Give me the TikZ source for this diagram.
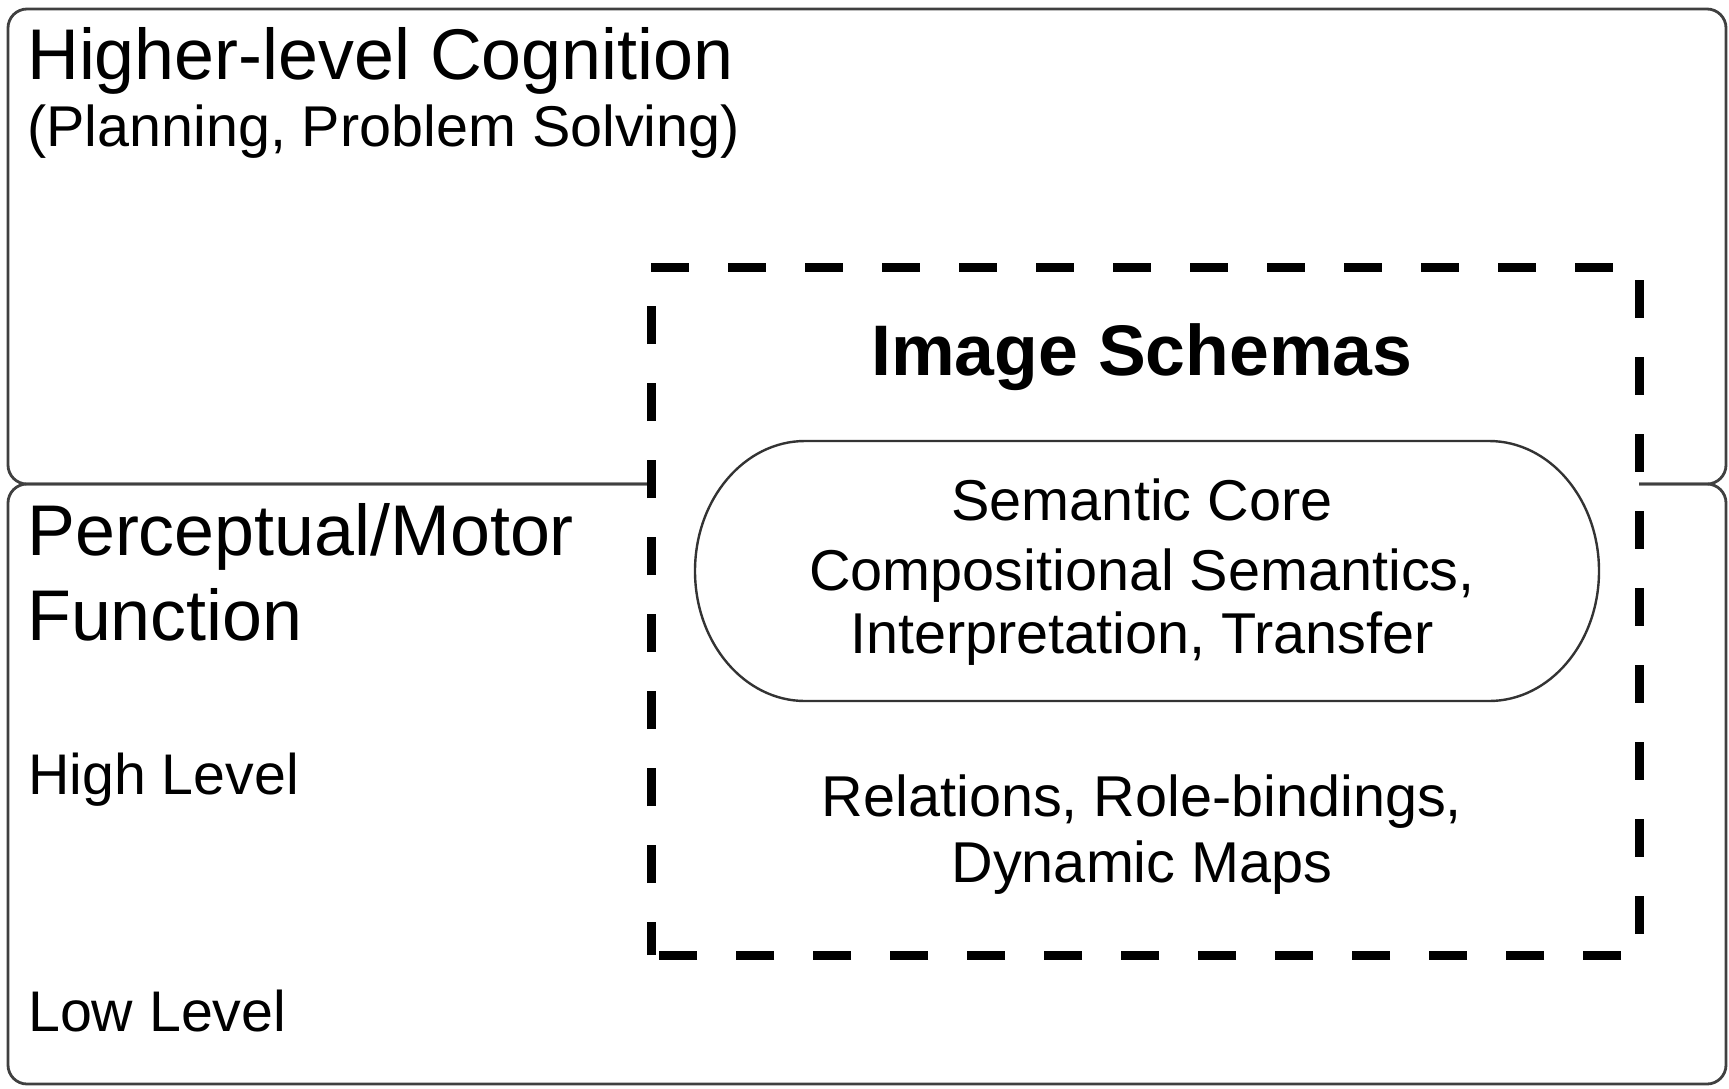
\documentclass[tikz,border=0pt]{standalone}
\usepackage{fontspec}
\setmainfont{Liberation Sans}
\begin{document}
\begin{tikzpicture}[x=1pt,y=-1pt,
  panel/.style={draw=black!75, line width=2.8pt, rounded corners=19pt},
  schemabox/.style={draw=black, fill=white, line width=9pt,
                    dash pattern=on 38pt off 39pt, dash phase=5pt},
  core/.style={draw=black!80, line width=2.4pt},
  bigleft/.style={anchor=base west, inner sep=0pt, font=\fontsize{71.8}{85}\selectfont},
  subleft/.style={anchor=base west, inner sep=0pt, font=\fontsize{57.5}{66}\selectfont},
  smallleft/.style={anchor=base west, inner sep=0pt, font=\fontsize{57.3}{66}\selectfont},
  centred/.style={anchor=base, inner sep=0pt, font=\fontsize{57.6}{66}\selectfont}]

\useasboundingbox (0,0) rectangle (1729,1088);

% two stacked panels sharing the middle edge
\draw[panel] (8,9) rectangle (1726,484);
\draw[panel] (8,484) rectangle (1726,1084);

% dashed image-schema frame laid over the shared edge
\draw[schemabox] (651,955) rectangle (1639,267);

% semantic core outline with elliptic ends
\draw[core] (805,441) -- (1489,441)
  arc[start angle=-90, end angle=90, x radius=110, y radius=130]
  -- (805,701)
  arc[start angle=90, end angle=270, x radius=110, y radius=130]
  -- cycle;

% panel labels
\node[bigleft] (hlc) at (27,79) {Higher-level Cognition};
\node[subleft] (hlcsub) at (27,146) {(Planning, Problem Solving)};
\node[bigleft] (pm) at (27,555) {Perceptual/Motor};
\node[bigleft] (pmfun) at (27,640) {Function};
\node[smallleft] (high) at (28,794) {High Level};
\node[smallleft] (low) at (28,1031) {Low Level};

% image schema contents
\node[anchor=base, inner sep=0pt, font=\fontsize{71.6}{85}\selectfont\bfseries] (title) at (1142,375) {Image Schemas};
\node[centred] (core1) at (1142,520) {Semantic Core};
\node[centred] (core2) at (1142,590) {Compositional Semantics,};
\node[centred] (core3) at (1142,653) {Interpretation, Transfer};
\node[centred] (rel1) at (1142,816) {Relations, Role-bindings,};
\node[centred] (rel2) at (1142,882) {Dynamic Maps};
\end{tikzpicture}
\end{document}
